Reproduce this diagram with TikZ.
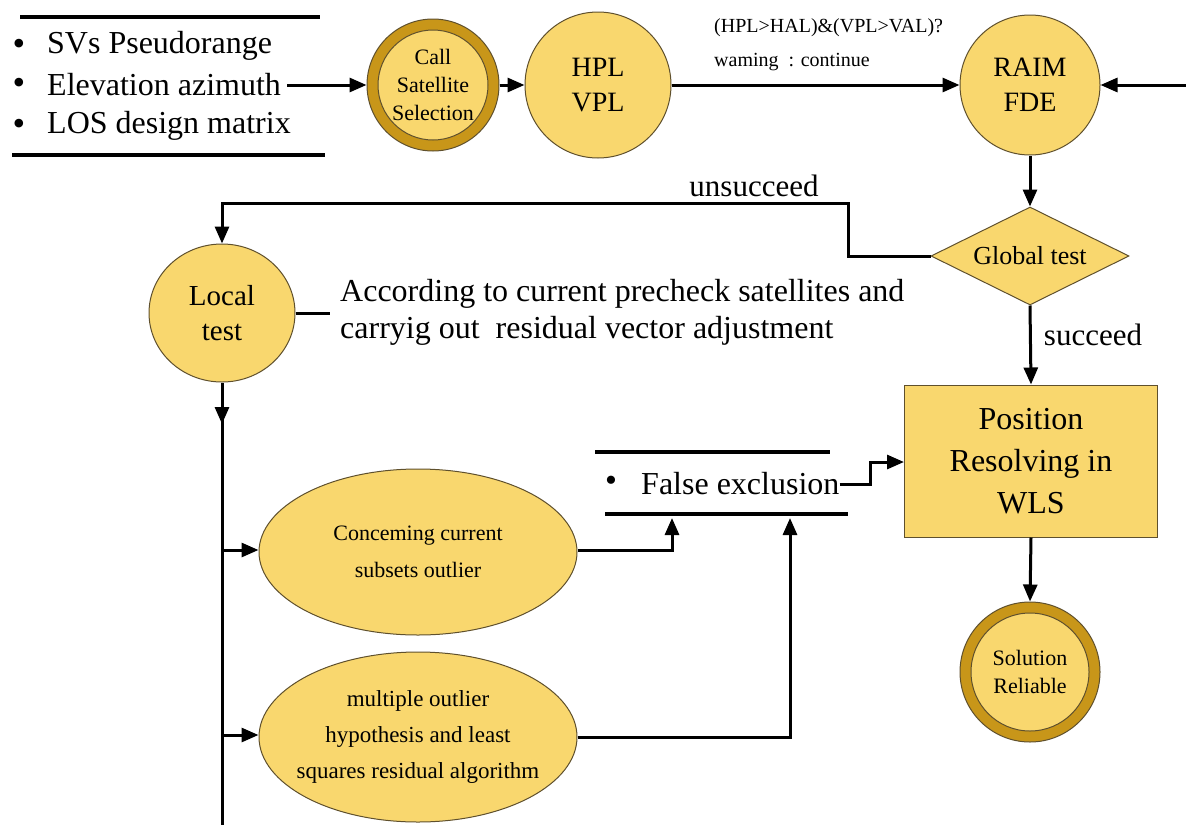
\documentclass[tikz,border=0pt]{standalone}
\usepackage{fontspec}
\setmainfont{Liberation Serif}
\usetikzlibrary{shapes.geometric,arrows.meta}
\definecolor{fillY}{RGB}{249,215,110}
\definecolor{ringY}{RGB}{200,150,25}
\definecolor{edgeC}{RGB}{95,80,45}
\newcommand{\fsz}[2]{\fontsize{#1}{#2}\selectfont}
\begin{document}
\begin{tikzpicture}[x=1pt,y=-1pt,
  yel/.style={fill=fillY,draw=edgeC,line width=1pt},
  circ/.style={yel,circle,inner sep=0pt,align=center},
  ell/.style={yel,ellipse,inner sep=0pt,align=center},
  ring/.style={circle,fill=ringY,draw=edgeC,line width=1pt,inner sep=0pt},
  arr/.style={line width=3pt,-{Triangle[length=17pt,width=14pt]}},
  ln/.style={line width=3pt},
  bar/.style={line width=4.5pt},
  txt/.style={inner sep=0pt,anchor=west}]
\useasboundingbox (0,0) rectangle (1186,825);

% input list
\draw[bar] (20,17) -- (320,17);
\draw[bar] (12,155) -- (325,155);
\node[inner sep=0pt,font=\fsz{36}{40}] (b1) at (19,47) {•};
\node[inner sep=0pt,font=\fsz{36}{40}] (b2) at (19,86) {•};
\node[inner sep=0pt,font=\fsz{36}{40}] (b3) at (19,127) {•};
\node[txt,font=\fsz{32}{36}] (sv) at (47,46) {SVs Pseudorange};
\node[txt,font=\fsz{32}{36}] (elev) at (47,85) {Elevation azimuth};
\node[txt,font=\fsz{32}{36}] (los) at (47,126) {LOS design matrix};

% top row
\node[ring,minimum size=132pt] (call) at (433,85) {};
\node[circ,minimum size=110pt,font=\fsz{22}{28}] (callin) at (call) {Call\\Satellite\\Selection};
\node[circ,minimum size=146pt,font=\fsz{28}{35}] (hpl) at (598,85) {HPL\\VPL};
\node[circ,minimum size=140pt,font=\fsz{28}{35}] (raim) at (1030,85) {RAIM\\FDE};
\coordinate (rin) at (1186,85);

\draw[arr] ([xshift=6pt]elev.east) -- (call.west);
\draw[arr] (call.east) -- (hpl.west);
\draw[arr] (hpl.east) -- (raim.west);
\draw[arr] (rin) -- (raim.east);
\node[txt,font=\fsz{20}{24}] (cond) at (714,28) {(HPL>HAL)\&(VPL>VAL)?};
\node[txt,font=\fsz{20}{24}] (warn) at (714,62) {waming\ \ : continue};

% global test
\node[yel,diamond,minimum width=198pt,minimum height=98pt,inner sep=0pt] (glob) at (1030,256) {};
\node[inner sep=0pt,font=\fsz{26}{30}] (globt) at (glob) {Global test};
\draw[arr] (raim.south) -- (glob.north);

% local test
\node[ell,minimum width=146pt,minimum height=138pt,font=\fsz{29}{35}] (local) at (222,313) {Local\\test};
\coordinate (u1) at (848,256);
\coordinate (u2) at (848,203);
\coordinate (u3) at (222,203);
\draw[arr] (glob.west) -- (u1) -- (u2) -- (u3) -- (local.north);
\node[font=\fsz{31}{34},inner sep=0pt] (unsuc) at (754,186) {unsucceed};

\coordinate (lr) at (330,313);
\node[txt,align=left,font=\fsz{32}{37}] (acc) at (340,312) {According to current precheck satellites and\\carryig out\ \ residual vector adjustment};
\draw[ln] (local.east) -- (lr);

% position box
\node[yel,rectangle,minimum width=253pt,minimum height=152pt,align=center,font=\fsz{32}{42}] (box) at (1031,461) {Position\\Resolving in\\WLS};
\draw[arr] (glob.south) -- (box.north);
\node[font=\fsz{31}{34},inner sep=0pt] (suc) at (1093,335) {succeed};

\node[ring,minimum size=140pt] (sol) at (1030,672) {};
\node[circ,minimum size=118pt,font=\fsz{22}{28}] (solin) at (sol) {Solution\\Reliable};
\draw[arr] (box.south) -- (sol.north);

% vertical bus from local test
\coordinate (vt) at (222,424);
\coordinate (vb) at (222,825);
\coordinate (v1) at (222,550);
\coordinate (v2) at (222,735);
\draw[ln] (local.south) -- (vb);
\draw[arr] (local.south) -- (vt);

% ellipses
\node[ell,minimum width=318pt,minimum height=166pt] (e1) at (418,552) {};
\node[inner sep=0pt,align=center,font=\fsz{22}{37}] (e1t) at (e1) {Conceming current\\subsets outlier};
\node[ell,minimum width=318pt,minimum height=170pt] (e2) at (418,737) {};
\node[inner sep=0pt,align=center,font=\fsz{23}{36}] (e2t) at (e2) {multiple outlier\\hypothesis and least\\squares residual algorithm};
\draw[arr] (v1) -- (v1 -| e1.west);
\draw[arr] (v2) -- (v2 -| e2.west);

% false exclusion
\draw[bar] (595,452) -- (830,452);
\draw[bar] (605,514) -- (848,514);
\node[inner sep=0pt,font=\fsz{34}{38}] (b4) at (611,484) {•};
\node[txt,font=\fsz{32}{36}] (fe) at (641,484) {False exclusion};
\coordinate (f2) at (870,462);
\draw[arr] (fe.east) -| (f2) -- (f2 -| box.west);

\coordinate (c1) at (672,550);
\coordinate (c2) at (672,518);
\draw[arr] (e1.east |- c1) -- (c1) -- (c2);
\coordinate (d1) at (790,737);
\coordinate (d2) at (790,518);
\draw[arr] (e2.east) -- (d1) -- (d2);
\end{tikzpicture}
\end{document}
